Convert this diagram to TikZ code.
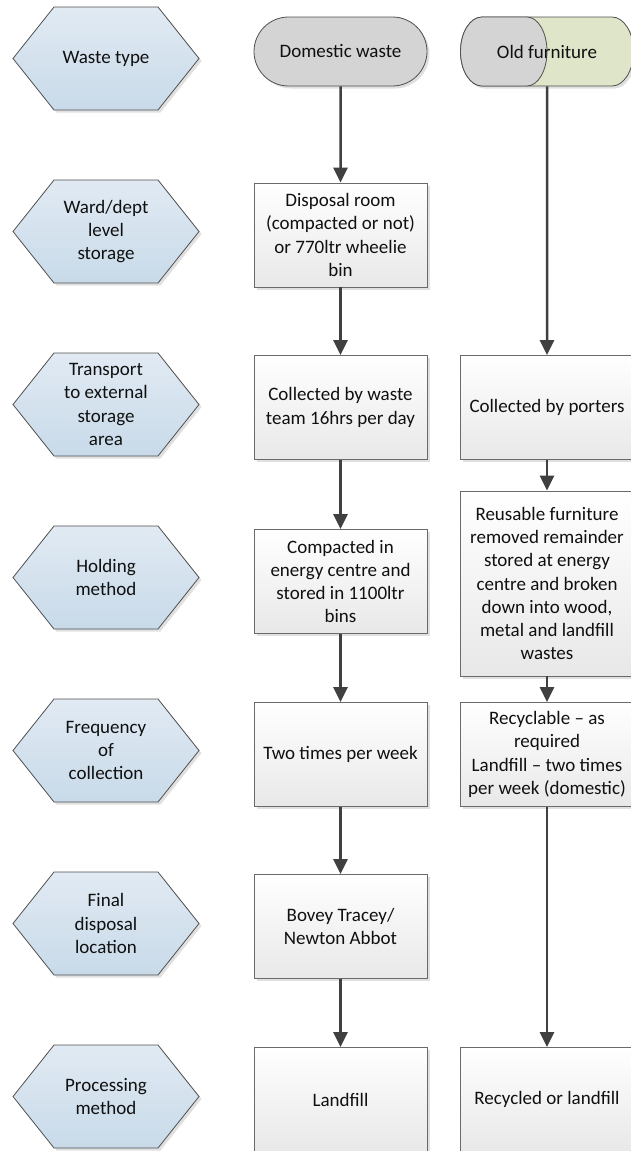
\documentclass[tikz,border=0pt]{standalone}
\usepackage{fontspec}
\setmainfont{Carlito}
\usetikzlibrary{arrows.meta,shapes.misc,shadows}

\definecolor{ink}{HTML}{101010}
\definecolor{hexTop}{HTML}{E1EAF3}
\definecolor{hexBot}{HTML}{C8DAE9}
\definecolor{hexLine}{HTML}{505050}
\definecolor{boxLine}{HTML}{6A6A6A}
\definecolor{boxBot}{HTML}{E8E8E8}
\definecolor{termGrey}{HTML}{D4D4D4}
\definecolor{termGreen}{HTML}{DEE5C8}
\definecolor{flowLine}{HTML}{404040}

\tikzset{
  txt/.style={font=\fontsize{19}{23.2}\selectfont, text=ink, align=center},
  softshadow/.style={drop shadow={shadow xshift=2.5pt, shadow yshift=-2.5pt,
      fill=black!30, opacity=0.4}},
  hexfill/.style={draw=hexLine, line width=0.8pt, top color=hexTop,
      bottom color=hexBot, softshadow},
  stepbox/.style={txt, rectangle, draw=boxLine, line width=0.8pt,
      top color=white, bottom color=boxBot, softshadow,
      minimum width=173pt, minimum height=#1, inner sep=0pt},
  stepbox/.default=104pt,
  terminal/.style={txt, rounded rectangle, line width=0.8pt,
      minimum width=173pt, minimum height=69pt, inner sep=0pt},
  pill/.style={draw=hexLine, line width=0.8pt},
  flow/.style={draw=flowLine, line width=2.5pt,
      -{Triangle[width=14pt,length=15pt]}},
}

% stage label: a flat hexagon with its text (name, x, y, text)
\newcommand\stagehex[4]{%
  \path[hexfill] (#2-93,#3) -- (#2-52,#3-51.5) -- (#2+52,#3-51.5)
    -- (#2+93,#3) -- (#2+52,#3+51.5) -- (#2-52,#3+51.5) -- cycle;
  \node[txt, inner sep=0pt] (#1) at (#2,#3) {#4};}

\begin{document}
\begin{tikzpicture}[x=1pt,y=-1pt]
\useasboundingbox (0,0) rectangle (631,1151);
\fill[white] (0,0) rectangle (631,1151);
\clip (0,0) rectangle (631,1151);

% stage column
\stagehex{hWaste}{106}{58.5}{Waste type}
\stagehex{hWard}{106}{231.5}{Ward/dept\\level\\storage}
\stagehex{hTrans}{106}{404.5}{Transport\\to external\\storage\\area}
\stagehex{hHold}{106}{577.5}{Holding\\method}
\stagehex{hFreq}{106}{750.5}{Frequency\\of\\collection}
\stagehex{hFinal}{106}{923.5}{Final\\disposal\\location}
\stagehex{hProc}{106}{1096.5}{Processing\\method}

% domestic waste column
\node[terminal, draw=hexLine, fill=termGrey, softshadow] (dom) at (340.5,51.5) {Domestic waste};
\node[stepbox] (disp) at (340.5,235) {Disposal room\\(compacted or not)\\or 770ltr wheelie\\bin};
\node[stepbox] (coll) at (340.5,407.5) {Collected by waste\\team 16hrs per day};
\node[stepbox] (comp) at (340.5,581.5) {Compacted in\\energy centre and\\stored in 1100ltr\\bins};
\node[stepbox] (twice) at (340.5,754.5) {Two times per week};
\node[stepbox] (bovey) at (340.5,926.5) {Bovey Tracey/\\Newton Abbot};
\node[stepbox] (land) at (340.5,1099.5) {Landfill};

% old furniture column: green pill with a grey cap over its left end
\path[pill, fill=termGreen, softshadow]
  (482,17) -- (612,17) arc[start angle=-90, end angle=90, x radius=21.5, y radius=34.5]
  -- (482,86) arc[start angle=90, end angle=270, x radius=21.5, y radius=34.5] -- cycle;
\path[pill, fill=termGrey]
  (482,17) -- (527,17) arc[start angle=-90, end angle=90, x radius=20, y radius=34.5]
  -- (482,86) arc[start angle=90, end angle=270, x radius=21.5, y radius=34.5] -- cycle;
\node[terminal] (furn) at (547,51.5) {Old furniture};
\node[stepbox] (porter) at (547,407.5) {Collected by porters};
\node[stepbox=185pt] (reuse) at (547,583.5) {Reusable furniture\\removed remainder\\stored at energy\\centre and broken\\down into wood,\\metal and landfill\\wastes};
\node[stepbox] (recyc) at (547,754.5) {Recyclable -- as\\required\\Landfill -- two times\\per week (domestic)};
\node[stepbox] (recland) at (547,1099.5) {Recycled or landfill};

% connectors
\draw[flow] (dom) -- (disp);
\draw[flow] (disp) -- (coll);
\draw[flow] (coll) -- (comp);
\draw[flow] (comp) -- (twice);
\draw[flow] (twice) -- (bovey);
\draw[flow] (bovey) -- (land);
\draw[flow] (furn) -- (porter);
\draw[flow] (porter) -- (reuse);
\draw[flow] (reuse) -- (recyc);
\draw[flow] (recyc) -- (recland);
\end{tikzpicture}
\end{document}
